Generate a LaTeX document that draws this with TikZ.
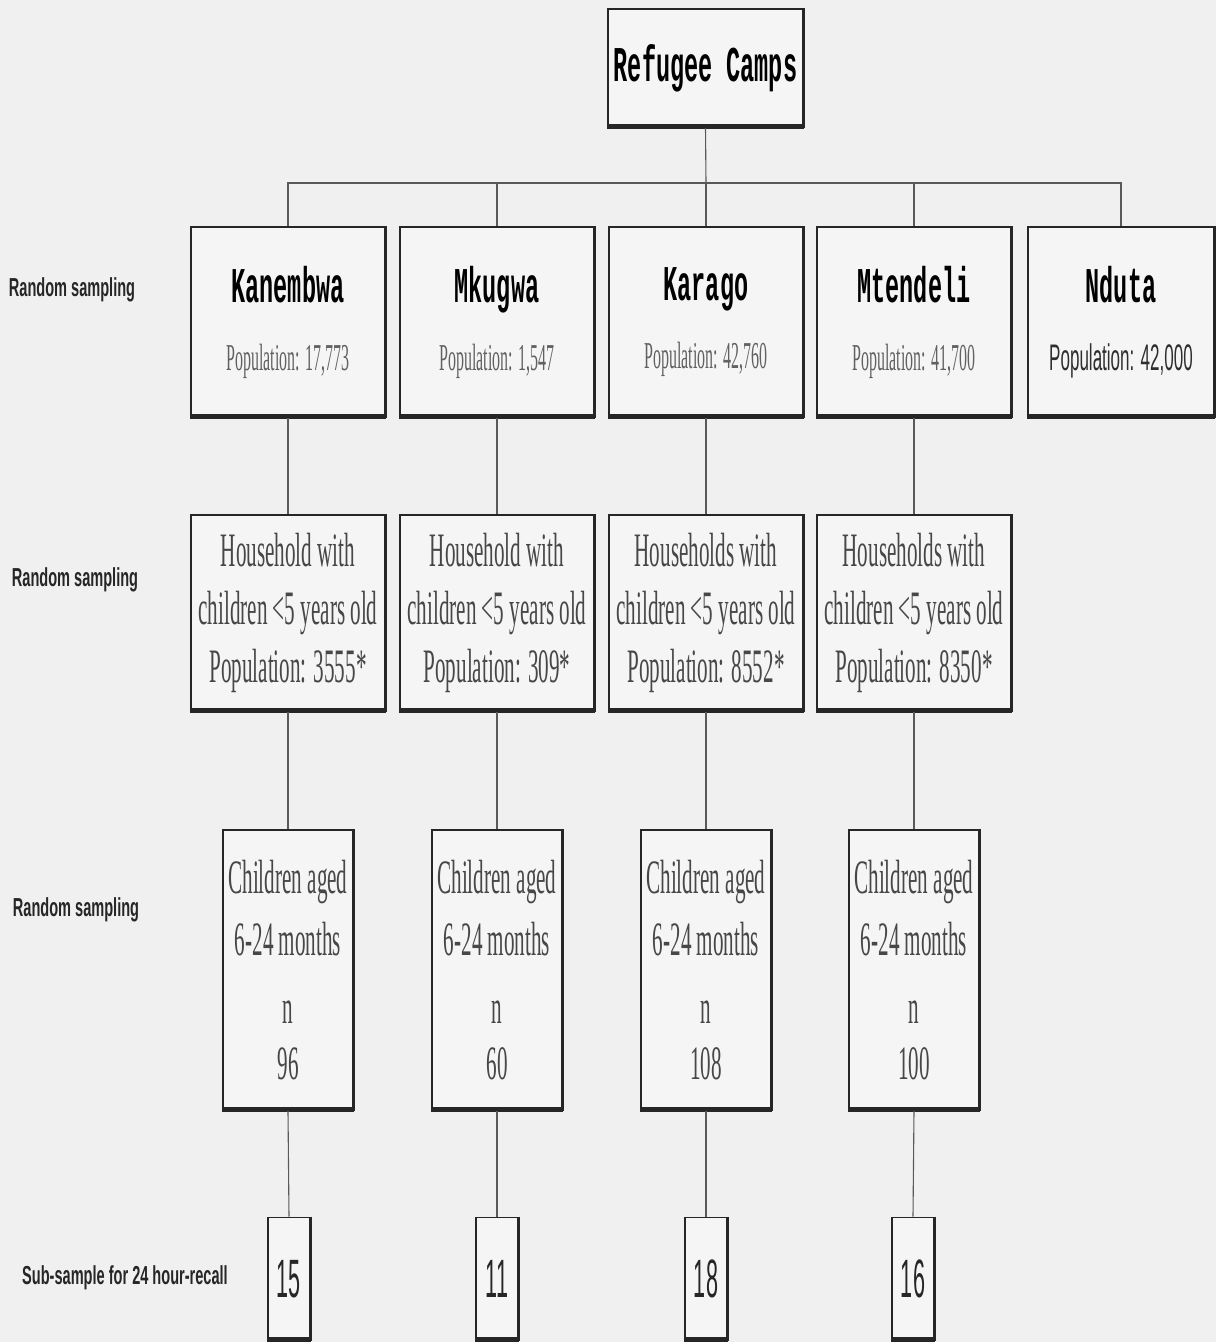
\documentclass[tikz,border=0pt]{standalone}
\usepackage{fontspec}
\newfontfamily\monoB[FakeStretch=0.47]{Liberation Mono}
\newfontfamily\serifC[FakeStretch=0.44]{Liberation Serif}
\newfontfamily\serifP[FakeStretch=0.42]{Liberation Serif}
\newfontfamily\sansP[FakeStretch=0.46]{Liberation Sans}
\newfontfamily\sansN[FakeStretch=0.40]{Liberation Sans}
\newfontfamily\sansL[FakeStretch=0.56]{Liberation Sans}
\begin{document}
\begin{tikzpicture}[x=1pt,y=-1pt]
\tikzset{
  box/.style={draw=black!85, line width=1.6pt, inner sep=0pt, align=center, fill=white!96!black},
  campbox/.style={box, minimum width=194pt, minimum height=190pt,
     font=\fontsize{40}{68}\selectfont},
  hhbox/.style={box, minimum width=194pt, minimum height=196pt,
     font=\serifC\fontsize{48}{58}\selectfont, text=black!72},
  chbox/.style={box, minimum width=130pt, minimum height=280pt,
     font=\serifC\fontsize{48}{62}\selectfont, text=black!72},
  subbox/.style={box, minimum width=42pt, minimum height=123pt,
     font=\sansN\fontsize{54}{60}\selectfont, text=black!85},
  conn/.style={draw=black!65, line width=1.1pt},
  lab/.style={font=\sansL\bfseries\fontsize{26}{30}\selectfont, text=black!85, inner sep=0pt},
}
\fill[white!94!black] (0,0) rectangle (1216,1342);
\useasboundingbox (0,0) rectangle (1216,1342);

% top
\node[box, minimum width=195pt, minimum height=118pt, font=\monoB\bfseries\fontsize{50}{56}\selectfont] (top) at (705.5,68) {Refugee Camps};

% row 1
\newcommand{\nm}[1]{{\monoB\bfseries\fontsize{50}{68}\selectfont #1}}
\newcommand{\pp}[1]{{\serifP\fontsize{38}{68}\selectfont\color{black!62}#1}}
\node[campbox] (k1) at (288,322) {\nm{Kanembwa}\\\pp{Population: 17,773}};
\node[campbox] (m1) at (497,322) {\nm{Mkugwa}\\\pp{Population: 1,547}};
\node[campbox] (ka1) at (706,322) {\nm{Karago}\\\pp{Population: 42,760}};
\node[campbox] (mt1) at (914,322) {\nm{Mtendeli}\\\pp{Population: 41,700}};
\node[campbox, minimum width=186pt] (n1) at (1121,322) {\nm{Nduta}\\{\sansP\fontsize{37}{68}\selectfont\color{black!82}Population: 42,000}};

% row 2
\node[hhbox] (k2) at (288,613) {Household with\\children <5 years old\\Population: 3555*};
\node[hhbox] (m2) at (497,613) {Household with\\children <5 years old\\Population: 309*};
\node[hhbox] (ka2) at (706,613) {Households with\\children <5 years old\\Population: 8552*};
\node[hhbox] (mt2) at (914,613) {Households with\\children <5 years old\\Population: 8350*};

% row 3
\node[chbox] (k3) at (288,970) {Children aged\\6-24 months\\[6pt]n\\[-6pt]96};
\node[chbox] (m3) at (497,970) {Children aged\\6-24 months\\[6pt]n\\[-6pt]60};
\node[chbox] (ka3) at (706,970) {Children aged\\6-24 months\\[6pt]n\\[-6pt]108};
\node[chbox] (mt3) at (914,970) {Children aged\\6-24 months\\[6pt]n\\[-6pt]100};

% row 4
\node[subbox] (k4) at (289,1279) {15};
\node[subbox] (m4) at (497,1279) {11};
\node[subbox] (ka4) at (706,1279) {18};
\node[subbox] (mt4) at (913,1279) {16};

% shadow edges
\foreach \n in {top,k1,m1,ka1,mt1,n1,k2,m2,ka2,mt2,k3,m3,ka3,mt3,k4,m4,ka4,mt4}{
  \draw[line width=5pt, black!85] ([yshift=1.5pt]\n.south west) -- ([yshift=1.5pt]\n.south east);
  \draw[line width=2.6pt, black!85] ([xshift=-0.5pt]\n.north east) -- ([xshift=-0.5pt]\n.south east);
}

% connectors
\coordinate (bar) at (706,183);
\draw[conn] (top.south) -- (bar);
\draw[conn] (k1.north) |- (bar) -| (n1.north);
\draw[conn] (m1.north) -- (m1.north |- bar);
\draw[conn] (ka1.north) -- (ka1.north |- bar);
\draw[conn] (mt1.north) -- (mt1.north |- bar);
\foreach \a/\b in {k1/k2,m1/m2,ka1/ka2,mt1/mt2,k2/k3,m2/m3,ka2/ka3,mt2/mt3,k3/k4,m3/m4,ka3/ka4,mt3/mt4}{
  \draw[conn] (\a.south) -- (\b.north);
}

% labels
\node[lab] (l1) at (72,290) {Random sampling};
\node[lab] (l2) at (75,580) {Random sampling};
\node[lab] (l3) at (76,910) {Random sampling};
\node[lab] (l4) at (125,1278) {Sub-sample for 24 hour-recall};
\end{tikzpicture}
\end{document}
